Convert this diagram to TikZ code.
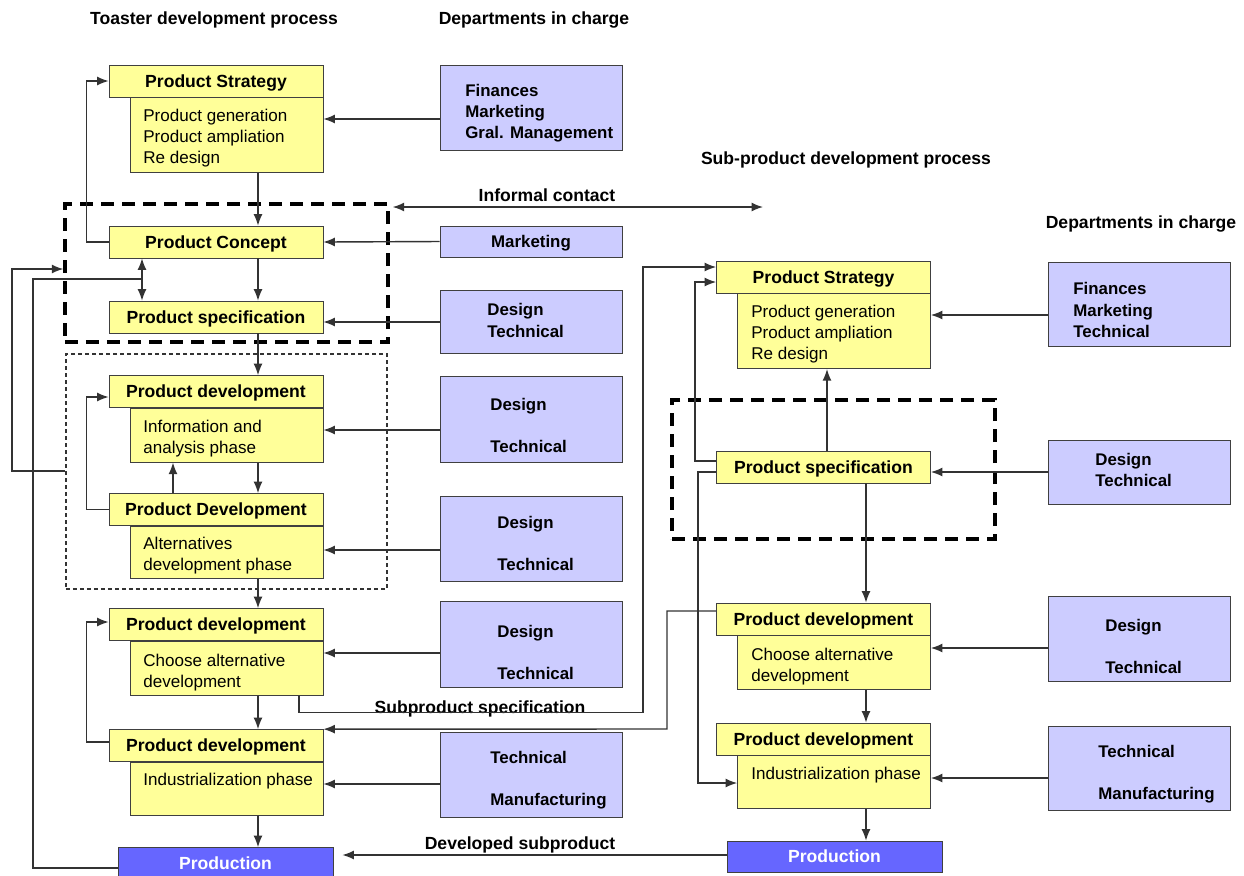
\documentclass[tikz,border=0pt]{standalone}
\usepackage{fontspec}
\setmainfont{Liberation Sans}
\usetikzlibrary{arrows.meta}
\definecolor{procyellow}{HTML}{FFFF99}
\definecolor{deptblue}{HTML}{CCCCFF}
\definecolor{prodblue}{HTML}{6666FF}
\tikzset{
  head/.style={draw=black!75, fill=procyellow, font=\fontsize{10}{12}\selectfont\bfseries, text height=7.2pt, text depth=0pt, minimum width=42.8mm, minimum height=6.4mm, inner sep=0pt},
  body/.style={draw=black!75, fill=procyellow, minimum width=38.6mm, anchor=north east, inner sep=0pt},
  btext/.style={anchor=west, align=left, inner sep=0pt, yshift=-0.4mm, font=\fontsize{9.7}{12}\selectfont},
  dept/.style={draw=black!75, fill=deptblue, minimum width=36.4mm, inner sep=0pt, text height=7pt, text depth=0pt, font=\fontsize{9.6}{12}\selectfont\bfseries},
  dtext/.style={anchor=west, align=left, inner sep=0pt, yshift=-0.3mm, font=\fontsize{9.6}{12}\selectfont\bfseries},
  prod/.style={draw=black!75, fill=prodblue, text=white, font=\fontsize{10}{12}\selectfont\bfseries, text height=7.2pt, text depth=0pt, minimum width=43mm, minimum height=6.4mm, inner sep=0pt},
  title/.style={font=\fontsize{10}{12}\selectfont\bfseries, text height=7.2pt, text depth=0pt, inner sep=0pt},
  arr/.style={->, line width=0.8pt, black!80},
  link/.style={line width=0.8pt, black!80},
  grpbox/.style={draw, line width=1.9pt, dash pattern=on 2.6mm off 1.6mm, inner sep=0pt},
  phasebox/.style={draw=black!80, line width=0.6pt, dash pattern=on 0.8mm off 0.6mm, inner sep=0pt}
}
\begin{document}
\begin{tikzpicture}[x=0.2mm, y=-0.2mm, >={Latex[length=2.3mm,width=1.8mm]}]
\useasboundingbox (0,0) rectangle (1244,875);

\node[title] (t1) at (214,18) {Toaster development process};
\node[title] (t2) at (534,18) {Departments in charge};
\node[title] (t3) at (846,158) {Sub-product development process};
\node[title] (t4) at (1141,222) {Departments in charge};

\node[grpbox, minimum width=64.6mm, minimum height=27.6mm] (grpa) at (226.5,273) {};
\node[phasebox, minimum width=64.2mm, minimum height=47mm] (grpb) at (226.5,471.5) {};
\node[grpbox, minimum width=64.6mm, minimum height=27.8mm] (grpc) at (833.5,469.5) {};

\node[head] (ls) at (216,81) {Product Strategy};
\node[body, minimum height=15mm] (lsb) at (ls.south east) {};
\node[btext] (lsbt) at (143,136) {Product generation\\Product ampliation\\Re design};
\node[head] (lc) at (216,242) {Product Concept};
\node[head] (lsp) at (216,317) {Product specification};
\node[head] (lpa) at (216,391.5) {Product development};
\node[body, minimum height=10.8mm] (lpab) at (lpa.south east) {};
\node[btext] (lpat) at (143,437) {Information and\\analysis phase};
\node[head] (lpb) at (216,509.5) {Product Development};
\node[body, minimum height=10.4mm] (lpbb) at (lpb.south east) {};
\node[btext] (lpbt) at (143,554) {Alternatives\\development phase};
\node[head] (lpc) at (216,624.5) {Product development};
\node[body, minimum height=10.8mm] (lpcb) at (lpc.south east) {};
\node[btext] (lpct) at (143,670.5) {Choose alternative\\development};
\node[head] (lpd) at (216,745.5) {Product development};
\node[body, minimum height=10.6mm] (lpdb) at (lpd.south east) {};
\node[btext] (lpdt) at (143,779) {Industrialization phase};
\node[prod] (lprod) at (225.5,863.5) {Production};

\node[dept, minimum height=17mm] (da) at (531,107.5) {};
\node[dtext] (dat) at (465,112) {Finances\\Marketing\\Gral. Management};
\node[dept, minimum height=6.2mm] (db) at (531,241.5) {Marketing};
\node[dept, minimum height=12.6mm] (dc) at (531,321.5) {};
\node[dtext] (dct) at (487,319) {Design\\Technical};
\node[dept, minimum height=17.2mm] (dd) at (531,419) {};
\node[dtext] (ddt) at (490,424) {Design\\[4.2mm]Technical};
\node[dept, minimum height=17mm] (de) at (531,538.5) {};
\node[dtext] (det) at (497,542) {Design\\[4.2mm]Technical};
\node[dept, minimum height=17.2mm] (df) at (531,644) {};
\node[dtext] (dft) at (497,651) {Design\\[4.2mm]Technical};
\node[dept, minimum height=17mm] (dg) at (531,774.5) {};
\node[dtext] (dgt) at (490,778.5) {Technical\\[4.2mm]Manufacturing};

\node[head] (rs) at (823.5,277) {Product Strategy};
\node[body, minimum height=15mm] (rsb) at (rs.south east) {};
\node[btext] (rsbt) at (751,332) {Product generation\\Product ampliation\\Re design};
\node[head] (rsp) at (823.5,467) {Product specification};
\node[head] (rpc) at (823.5,619) {Product development};
\node[body, minimum height=10.8mm] (rpcb) at (rpc.south east) {};
\node[btext] (rpct) at (751,664.5) {Choose alternative\\development};
\node[head] (rpd) at (823.5,739) {Product development};
\node[body, minimum height=10.6mm] (rpdb) at (rpd.south east) {};
\node[btext] (rpdt) at (751,773) {Industrialization phase};
\node[prod, minimum height=6.2mm] (rprod) at (834.5,856.5) {Production};

\node[dept, minimum height=16.8mm] (ea) at (1139,304) {};
\node[dtext] (eat) at (1073,308.5) {Finances\\Marketing\\Technical};
\node[dept, minimum height=12.8mm] (eb) at (1139,472) {};
\node[dtext] (ebt) at (1095,468.5) {Design\\Technical};
\node[dept, minimum height=17mm] (ec) at (1139,638.5) {};
\node[dtext] (ect) at (1105,645) {Design\\[4.2mm]Technical};
\node[dept, minimum height=16.8mm] (ed) at (1139,768) {};
\node[dtext] (edt) at (1098,772.5) {Technical\\[4.2mm]Manufacturing};

\node[title] (ic) at (547,195) {Informal contact};
\node[title] (ss) at (480,707) {Subproduct specification};
\node[title] (ds) at (520,843) {Developed subproduct};
\coordinate (icend) at (763,207);

\draw[arr] (da.west |- 0,119) -- (lsb.east |- 0,119);
\draw[arr] (lsb.south -| 258,0) -- (lc.north -| 258,0);
\draw[arr] (lc.west) -- ++(-22,0) |- (ls.west);
\draw[arr] (db.west) -- (lc.east);
\draw[arr] (lc.south -| 258,0) -- (lsp.north -| 258,0);
\draw[arr, <->] (lc.south -| 142,0) -- (lsp.north -| 142,0);
\draw[arr] (dc.west |- 0,322) -- (lsp.east |- 0,322);
\draw[arr, <->, shorten <=0.6mm] (grpa.north east |- icend) -- (icend);
\draw[arr] (grpb.west |- 0,471) -| (12,269) -- (grpa.west |- 0,269);
\draw[link] (lprod.west |- 0,868) -| (33,279) -- (142,279);

\draw[arr] (lsp.south -| 258,0) -- (lpa.north -| 258,0);
\draw[arr] (dd.west |- 0,430) -- (lpab.east |- 0,430);
\draw[arr] (lpab.south -| 258,0) -- (lpb.north -| 258,0);
\draw[arr] (lpb.north -| 173,0) -- (lpab.south -| 173,0);
\draw[arr] (lpb.west) -- ++(-22,0) |- (lpa.west |- 0,397);
\draw[arr] (de.west |- 0,550) -- (lpbb.east |- 0,550);
\draw[arr] (lpbb.south -| 258,0) -- (lpc.north -| 258,0);
\draw[arr] (df.west |- 0,653) -- (lpcb.east |- 0,653);
\draw[arr] (lpd.west |- 0,742) -- ++(-22,0) |- (lpc.west |- 0,622);
\draw[arr] (lpcb.south -| 258,0) -- (lpd.north -| 258,0);
\draw[arr] (dg.west |- 0,784) -- (lpdb.east |- 0,784);
\draw[arr] (lpdb.south -| 258,0) -- (lprod.north -| 258,0);

\draw[arr] (lpcb.south -| 299,0) -- ++(0,17) -| (643,267) -- (rs.west |- 0,267);
\draw[arr] (rpc.west |- 0,611) -| (667,729) -- (lpd.north east);
\draw[arr, shorten >=1.8mm] (rprod.west |- 0,855) -- (lprod.east |- 0,855);

\draw[arr] (ea.west |- 0,315) -- (rsb.east |- 0,315);
\draw[arr] (rsp.north -| 827,0) -- (rsb.south -| 827,0);
\draw[arr] (rsp.west |- 0,461) -| (695,282) -- (rs.west |- 0,282);
\draw[arr] (rsp.west |- 0,472) -| (698,783) -- (rpdb.west |- 0,783);
\draw[arr] (eb.west) -- (rsp.east |- eb.west);
\draw[arr] (rsp.south -| 866,0) -- (rpc.north -| 866,0);
\draw[arr] (ec.west |- 0,648) -- (rpcb.east |- 0,648);
\draw[arr] (rpcb.south -| 866,0) -- (rpd.north -| 866,0);
\draw[arr] (ed.west |- 0,778) -- (rpdb.east |- 0,778);
\draw[arr] (rpdb.south -| 866,0) -- (rprod.north -| 866,0);
\end{tikzpicture}
\end{document}
